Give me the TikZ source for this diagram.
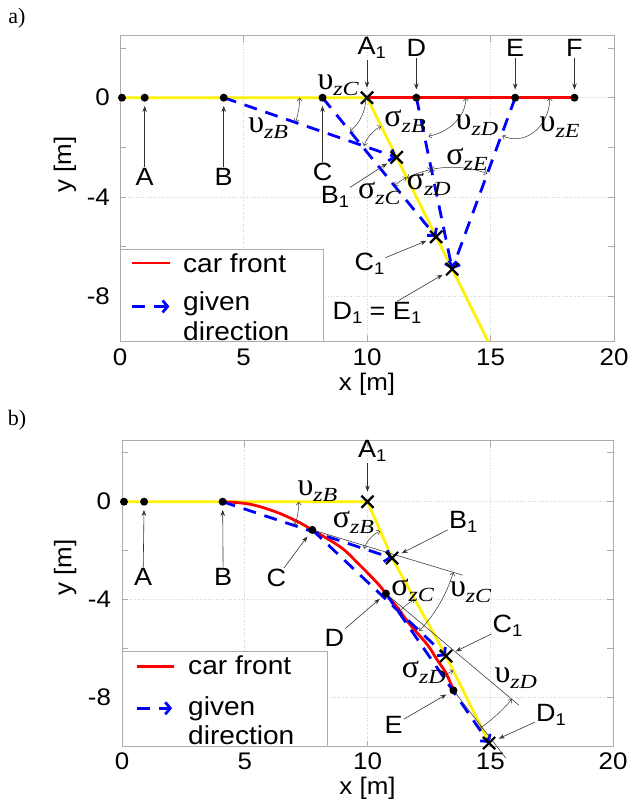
\documentclass[tikz,border=0pt]{standalone}
\usepackage{fontspec}
\setmainfont{Liberation Sans}[FakeStretch=1.08]
\newfontfamily\serf{Liberation Serif}
\newfontfamily\subf{Liberation Serif}[FakeStretch=1.2]
\usetikzlibrary{arrows.meta, shapes.misc, backgrounds}

\newcommand{\ang}[2]{{\serf\fontsize{32}{32}\selectfont #1}\raisebox{-6pt}{\subf\itshape\fontsize{20}{20}\selectfont #2}}
\newcommand{\one}{\raisebox{-4pt}{\fontsize{17}{17}\selectfont 1}}

\begin{document}
\begin{tikzpicture}[
    x=1pt, y=1pt,
    >=Stealth,
    dot/.style={circle, fill=black, inner sep=0pt, minimum size=8pt},
    xmark/.style={cross out, draw=black, line width=2.2pt, minimum size=10pt, inner sep=0pt},
    lbl/.style={font=\fontsize{25}{25}\selectfont, inner sep=1pt},
    ticklbl/.style={font=\fontsize{24}{24}\selectfont, inner sep=1pt},
    legtxt/.style={font=\fontsize{26}{26}\selectfont, inner sep=0pt, anchor=base west},
    grk/.style={inner sep=0pt},
    panel/.style={font=\serf\fontsize{22}{22}\selectfont},
    lblarr/.style={-{Stealth[length=6pt, width=4.5pt]}, line width=0.6pt, gray!40!black, shorten >=4pt},
    angarc/.style={{Straight Barb[length=3pt, width=5pt]}-{Straight Barb[length=3pt, width=5pt]}, line width=0.5pt, gray!40!black},
    tangent/.style={line width=0.6pt, gray!50!black},
    given/.style={blue, line width=2.8pt, dash pattern=on 13pt off 9pt, -{Straight Barb[length=5pt, width=12pt]}},
    front/.style={red, line width=2.8pt},
    track/.style={yellow, line width=2.8pt},
    axbox/.style={gray!65, line width=0.8pt},
    gridln/.style={gray!35, line width=0.6pt, dotted},
    legbox/.style={draw=gray!65, fill=white, line width=0.8pt},
]
\useasboundingbox (0,0) rectangle (632,-800);

% ================= a) straight car front =================
\node[panel] (pa) at (17,-18) {a)};
\begin{scope}[shift={(120pt,-97.7pt)}, x=24.7pt, y=24.85pt]

% --- axes ---
\begin{pgfonlayer}{background}
  \foreach \gx in {5,10,15} \draw[gridln] (\gx,-9.8) -- (\gx,2.5);
  \foreach \gy in {0,-4,-8} \draw[gridln] (0,\gy) -- (20,\gy);
  \foreach \ty in {2,0,-2,-4,-6,-8} {
    \draw[axbox] (0,\ty) -- ++(0.25,0);
    \draw[axbox] (20,\ty) -- ++(-0.25,0);
  }
  \foreach \tx in {5,10,15} {
    \draw[axbox] (\tx,-9.8) -- ++(0,0.25);
    \draw[axbox] (\tx,2.5) -- ++(0,-0.25);
  }
  \draw[axbox] (0,-9.8) rectangle (20,2.5);
\end{pgfonlayer}
\foreach \tx in {0,5,10,15,20} \node[ticklbl] (ax\tx) at (\tx,-10.46) {\tx};
\foreach \ty/\nm in {0/0,-4/4,-8/8} \node[ticklbl, anchor=east] (ay\nm) at (-0.36,\ty) {\ty};
\node[ticklbl] (axl) at (10,-11.52) {x [m]};
\node[ticklbl, rotate=90] (ayl) at (-2.23,-2.7) {y [m]};

% --- points ---
\node[dot] (aO) at (0.08,0) {};
\node[dot] (aA) at (1,0) {};
\node[dot] (aB) at (4.2,0) {};
\node[dot] (aC) at (8.2,0) {};
\node[dot] (aD) at (12,0) {};
\node[dot] (aE) at (16,0) {};
\node[dot] (aF) at (18.4,0) {};
\node[xmark] (aA1) at (10,0) {};
\node[xmark] (aB1) at (11.2,-2.4) {};
\node[xmark] (aC1) at (12.8,-5.6) {};
\node[xmark] (aD1) at (13.45,-6.9) {};
\coordinate (aYend) at (14.9,-9.8);

% --- track, car front, given directions ---
\begin{pgfonlayer}{background}
  \draw[track] (aO.center) -- (aA1.center) -- (aYend);
  \draw[front] (aA1.center) -- (aF.center);
  \draw[given] (aB.center) -- (aB1.center);
  \draw[given] (aC.center) -- (aC1.center);
  \draw[given] (aD.center) -- (aD1.center);
  \draw[given] (aE.center) -- (aD1.center);
\end{pgfonlayer}

% --- angles ---
\draw[angarc] ([shift={(0:3.07)}]aB.center) arc[start angle=0, end angle=-18.9, radius=3.07];
\draw[angarc] ([shift={(0:1.75)}]aC.center) arc[start angle=0, end angle=-50.6, radius=1.75];
\draw[angarc] ([shift={(161:1.4)}]aB1.center) arc[start angle=161, end angle=116.6, radius=1.4];
\draw[angarc] ([shift={(2,0)}]aD.center) arc[start angle=0, end angle=-76, x radius=2, y radius=1.6];
\draw[angarc] ([shift={(1.4,0)}]aE.center) arc[start angle=0, end angle=-112, x radius=1.4, y radius=1.65];
\draw[angarc] ([shift={(129.4:2.67)}]aC1.center) arc[start angle=129.4, end angle=116.6, radius=2.67];
\draw[angarc] ([shift={(116.6:4.1)}]aD1.center) arc[start angle=116.6, end angle=102, radius=4.1];
\draw[angarc] ([shift={(102:4.1)}]aD1.center) arc[start angle=102, end angle=69.7, radius=4.1];

\node[grk] (aUzB) at (6.0,-1.2) {\ang{υ}{zB}};
\node[grk] (aUzC) at (8.83,0.52) {\ang{υ}{zC}};
\node[grk] (aUzD) at (14.45,-1.09) {\ang{υ}{zD}};
\node[grk] (aUzE) at (17.8,-1.17) {\ang{υ}{zE}};
\node[grk] (aSzB) at (11.54,-0.97) {\ang{σ}{zB}};
\node[grk] (aSzC) at (10.5,-3.87) {\ang{σ}{zC}};
\node[grk] (aSzD) at (12.5,-3.5) {\ang{σ}{zD}};
\node[grk] (aSzE) at (14.05,-2.46) {\ang{σ}{zE}};

% --- point labels ---
\node[lbl] (aAl) at (1,-3.2) {A};
\node[lbl] (aBl) at (4.2,-3.2) {B};
\node[lbl] (aCl) at (8.2,-3.0) {C};
\node[lbl] (aA1l) at (10.19,2.0) {A\one};
\node[lbl] (aDl) at (12,2.0) {D};
\node[lbl] (aEl) at (16,2.0) {E};
\node[lbl] (aFl) at (18.4,2.0) {F};
\node[lbl] (aB1l) at (8.7,-4.0) {B\one};
\node[lbl] (aC1l) at (10.1,-6.7) {C\one};
\node[lbl] (aD1l) at (10.4,-8.67) {D\one{} = E\one};

\draw[lblarr] (aAl) -- (aA);
\draw[lblarr] (aBl) -- (aB);
\draw[lblarr] (aCl) -- (aC);
\draw[lblarr] (aA1l.south -| aA1) -- (aA1);
\draw[lblarr] (aDl) -- (aD);
\draw[lblarr] (aEl) -- (aE);
\draw[lblarr] (aFl) -- (aF);
\draw[lblarr] (aB1l) -- (aB1);
\draw[lblarr] (aC1l) -- (aC1);
\draw[lblarr] (aD1l) -- (aD1);

% --- legend ---
\draw[legbox] (0,-6.1) rectangle (8.25,-9.8);
\draw[front] (0.49,-6.65) -- (2.02,-6.65);
\draw[given] (0.49,-8.4) -- (2.0,-8.4);
\node[legtxt] (aLf) at (2.55,-7.04) {car front};
\node[legtxt] (aLg) at (2.55,-8.57) {given};
\node[legtxt] (aLd) at (2.55,-9.78) {direction};
\end{scope}

% ================= b) curved car front =================
\node[panel] (pb) at (17,-420) {b)};
\begin{scope}[shift={(122pt,-501.7pt)}, x=24.55pt, y=24.5pt]

% --- axes ---
\begin{pgfonlayer}{background}
  \foreach \gx in {5,10,15} \draw[gridln] (\gx,-10) -- (\gx,2.5);
  \foreach \gy in {0,-4,-8} \draw[gridln] (0,\gy) -- (20,\gy);
  \foreach \ty in {2,0,-2,-4,-6,-8} {
    \draw[axbox] (0,\ty) -- ++(0.25,0);
    \draw[axbox] (20,\ty) -- ++(-0.25,0);
  }
  \foreach \tx in {5,10,15} {
    \draw[axbox] (\tx,-10) -- ++(0,0.25);
    \draw[axbox] (\tx,2.5) -- ++(0,-0.25);
  }
  \draw[axbox] (0,-10) rectangle (20,2.5);
\end{pgfonlayer}
\foreach \tx in {0,5,10,15,20} \node[ticklbl] (bx\tx) at (\tx,-10.58) {\tx};
\foreach \ty/\nm in {0/0,-4/4,-8/8} \node[ticklbl, anchor=east] (by\nm) at (-0.4,\ty) {\ty};
\node[ticklbl] (bxl) at (10,-11.68) {x [m]};
\node[ticklbl, rotate=90] (byl) at (-2.32,-2.7) {y [m]};

% --- points ---
\node[dot] (bO) at (0.08,0) {};
\node[dot] (bA) at (0.9,0) {};
\node[dot] (bB) at (4.1,0) {};
\node[dot] (bC) at (7.75,-1.15) {};
\node[dot] (bD) at (10.75,-3.75) {};
\node[dot] (bE) at (13.5,-7.7) {};
\node[xmark] (bA1) at (10,0) {};
\node[xmark] (bB1) at (11,-2.3) {};
\node[xmark] (bC1) at (13.2,-6.3) {};
\node[xmark] (bD1) at (14.95,-9.85) {};
\coordinate (bTc) at (13.88,-3.0);
\coordinate (bTd) at (16.16,-8.3);
\coordinate (bTe) at (15.63,-10.46);

% --- track, car front, given directions ---
\begin{pgfonlayer}{background}
  \draw[track] (bO.center) -- (bA1.center) -- (bB1.center) -- (bC1.center) -- (bD1.center);
  \draw[front] plot[smooth, tension=0.6] coordinates {(bB.center) (5.2,-0.1) (6.3,-0.43) (7.27,-0.87) (bC.center) (8.9,-1.85) (9.6,-2.5) (10.4,-3.32) (bD.center) (11.2,-4.3) (11.75,-5.04) (12.45,-5.85) (12.8,-6.4) (13.2,-7.0) (bE.center)};
  \draw[given] (bB.center) -- (bB1.center);
  \draw[given] (bC.center) -- (bC1.center);
  \draw[given] (bD.center) -- (bD1.center);
  \draw[tangent] (bC.center) -- (bTc);
  \draw[tangent] (bD.center) -- (bTd);
  \draw[tangent] (bE.center) -- (bTe);
\end{pgfonlayer}

% --- angles ---
\draw[angarc] ([shift={(0:3.1)}]bB.center) arc[start angle=0, end angle=-18.4, radius=3.1];
\draw[angarc] ([shift={(161.6:1.2)}]bB1.center) arc[start angle=161.6, end angle=113.5, radius=1.2];
\draw[angarc] ([shift={(136.6:2.64)}]bC1.center) arc[start angle=136.6, end angle=118.8, radius=2.64];
\draw[angarc] ([shift={(-16.8:6)}]bC.center) arc[start angle=-16.8, end angle=-43.4, radius=6];
\draw[angarc] ([shift={(124.5:3.3)}]bD1.center) arc[start angle=124.5, end angle=116.2, radius=3.3];
\draw[angarc] ([shift={(-40:6.7)}]bD.center) arc[start angle=-40, end angle=-55.5, radius=6.7];

\node[grk] (bUzB) at (7.96,0.44) {\ang{υ}{zB}};
\node[grk] (bSzB) at (9.43,-0.83) {\ang{σ}{zB}};
\node[grk] (bSzC) at (11.84,-3.6) {\ang{σ}{zC}};
\node[grk] (bUzC) at (14.2,-3.69) {\ang{υ}{zC}};
\node[grk] (bSzD) at (12.29,-6.96) {\ang{σ}{zD}};
\node[grk] (bUzD) at (16.04,-7.2) {\ang{υ}{zD}};

% --- point labels ---
\node[lbl] (bAl) at (0.86,-3.08) {A};
\node[lbl] (bBl) at (4.12,-3.08) {B};
\node[lbl] (bCl) at (6.29,-3.12) {C};
\node[lbl] (bDl) at (8.65,-5.56) {D};
\node[lbl] (bEl) at (11.06,-9.12) {E};
\node[lbl] (bA1l) at (10.19,2.07) {A\one};
\node[lbl] (bB1l) at (13.9,-0.83) {B\one};
\node[lbl] (bC1l) at (15.7,-5.08) {C\one};
\node[lbl] (bD1l) at (17.47,-8.7) {D\one};

\draw[lblarr] (bAl) -- (bA);
\draw[lblarr] (bBl) -- (bB);
\draw[lblarr] (bCl) -- (bC);
\draw[lblarr] (bDl) -- (bD);
\draw[lblarr] (bEl) -- (bE);
\draw[lblarr] (bA1l.south -| bA1) -- (bA1);
\draw[lblarr] (bB1l) -- (bB1);
\draw[lblarr] (bC1l) -- (bC1);
\draw[lblarr] (bD1l) -- (bD1);

% --- legend ---
\draw[legbox] (0,-6.1) rectangle (8.35,-10);
\draw[front] (0.61,-6.72) -- (2.12,-6.72);
\draw[given] (0.61,-8.43) -- (2.04,-8.43);
\node[legtxt] (bLf) at (2.69,-7.07) {car front};
\node[legtxt] (bLg) at (2.69,-8.71) {given};
\node[legtxt] (bLd) at (2.69,-9.89) {direction};
\end{scope}

\end{tikzpicture}
\end{document}
